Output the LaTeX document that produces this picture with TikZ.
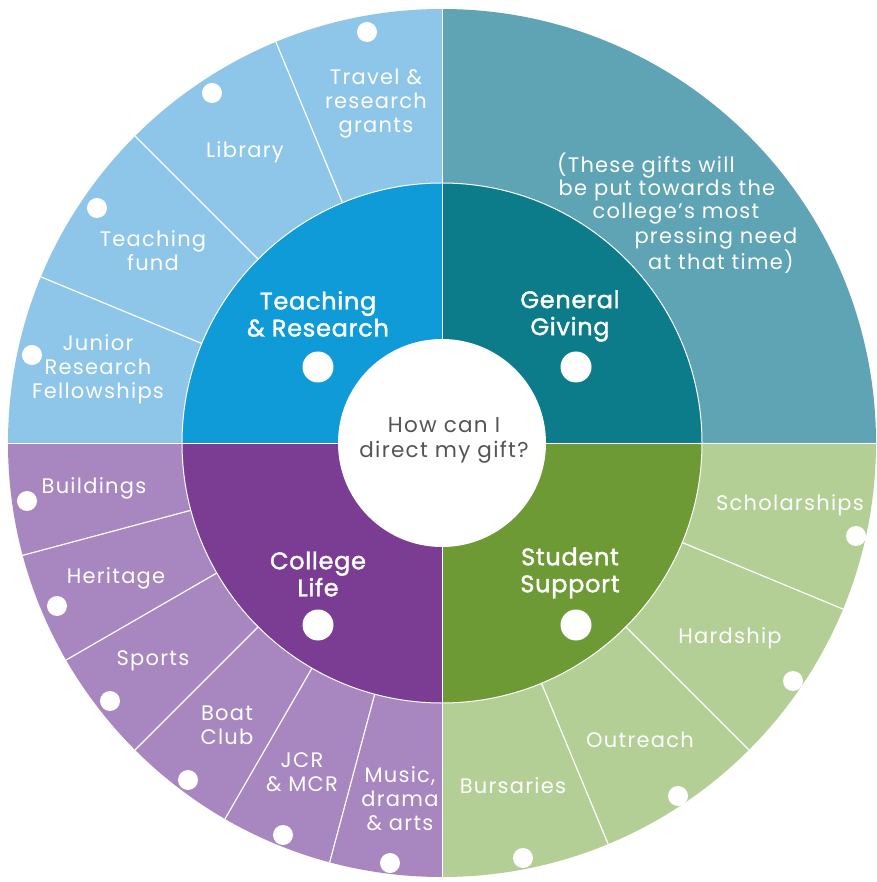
\documentclass[tikz,border=0pt]{standalone}
\usepackage{fontspec}
\setmainfont{Poppins}
\newfontfamily\outfont[LetterSpace=6]{Poppins}
\newfontfamily\catfont[LetterSpace=3,FakeBold=1.6]{Poppins}
\definecolor{trOut}{HTML}{8EC6EA}
\definecolor{trMid}{HTML}{0F9BD7}
\definecolor{ggOut}{HTML}{5EA4B5}
\definecolor{ggMid}{HTML}{0C7C8A}
\definecolor{clOut}{HTML}{A886C0}
\definecolor{clMid}{HTML}{7A3D93}
\definecolor{ssOut}{HTML}{B3CF96}
\definecolor{ssMid}{HTML}{6E9A36}
\definecolor{ctrText}{HTML}{555555}
\tikzset{
  outlbl/.style={text=white, font=\outfont\fontsize{21}{24}\selectfont, align=center, inner sep=0pt},
  catlbl/.style={text=white, font=\catfont\fontsize{24}{27}\selectfont, align=center, inner sep=0pt},
  ctrlbl/.style={text=ctrText, font=\outfont\fontsize{21.5}{25}\selectfont, align=center, inner sep=0pt},
  smalldot/.style={fill=white},
  bigdot/.style={fill=white},
  divider/.style={white, line width=1.2pt}
}
\begin{document}
\begin{tikzpicture}[x=1pt,y=1pt]
\useasboundingbox[fill=white] (-442,-439) rectangle (434,443);
% outer ring quadrants
\fill[ggOut] (0,0) -- (0:434) arc[start angle=0,end angle=90,radius=434] -- cycle;
\fill[trOut] (0,0) -- (90:434) arc[start angle=90,end angle=180,radius=434] -- cycle;
\fill[clOut] (0,0) -- (180:434) arc[start angle=180,end angle=270,radius=434] -- cycle;
\fill[ssOut] (0,0) -- (270:434) arc[start angle=270,end angle=360,radius=434] -- cycle;
% middle ring quadrants
\fill[ggMid] (0,0) -- (0:260) arc[start angle=0,end angle=90,radius=260] -- cycle;
\fill[trMid] (0,0) -- (90:260) arc[start angle=90,end angle=180,radius=260] -- cycle;
\fill[clMid] (0,0) -- (180:260) arc[start angle=180,end angle=270,radius=260] -- cycle;
\fill[ssMid] (0,0) -- (270:260) arc[start angle=270,end angle=360,radius=260] -- cycle;
% separators
\draw[white, line width=1pt] (0,0) circle[radius=260];
\foreach \a in {112.5,135,157.5,195,210,225,240,255,292.5,315,337.5}
  \draw[divider] (\a:260) -- (\a:434);
\foreach \a in {0,90,180,270}
  \draw[white, line width=0.5pt] (\a:104) -- (\a:434);
% centre
\fill[white] (0,0) circle[radius=104];

\begin{scope}[shift={(-442pt,443pt)},x=1pt,y=-1pt]
  \node[ctrlbl] (centre) at (444,440) {How can I\\direct my gift?};
  % category labels
  \node[catlbl] (tr) at (318,314) {Teaching\\\& Research};
  \node[catlbl] (gg) at (570,316) {General\\Giving};
  \node[catlbl] (cl) at (318,574) {College\\Life};
  \node[catlbl] (ss) at (570,573) {Student\\Support};
  \fill[bigdot] (318,367) circle[radius=15.5pt];
  \fill[bigdot] (576,367) circle[radius=15.5pt];
  \fill[bigdot] (318,625) circle[radius=15.5pt];
  \fill[bigdot] (576,625) circle[radius=15.5pt];
  % teaching & research items
  \node[outlbl] (travel) at (376,104) {Travel \&\\research\\grants};
  \node[outlbl] (library) at (245,152) {Library};
  \node[outlbl] (tfund) at (153,251) {Teaching\\fund};
  \node[outlbl] (jrf) at (98,369) {Junior\\Research\\Fellowships};
  \fill[smalldot] (367,32) circle[radius=10pt];
  \fill[smalldot] (212,93) circle[radius=10pt];
  \fill[smalldot] (97,208) circle[radius=10pt];
  \fill[smalldot] (32,355) circle[radius=10pt];
  % general giving text
  \node[outlbl] (g1) at (646,166) {(These gifts will};
  \node[outlbl] (g2) at (667,190) {be put towards the};
  \node[outlbl] (g3) at (676,214) {college’s most};
  \node[outlbl] (g4) at (716,238) {pressing need};
  \node[outlbl] (g5) at (721,262) {at that time)};
  % student support items
  \node[outlbl] (schol) at (790,505) {Scholarships};
  \node[outlbl] (hard) at (730,638) {Hardship};
  \node[outlbl] (outr) at (640,740) {Outreach};
  \node[outlbl] (burs) at (513,786) {Bursaries};
  \fill[smalldot] (856,536) circle[radius=10pt];
  \fill[smalldot] (793,681) circle[radius=10pt];
  \fill[smalldot] (678,796) circle[radius=10pt];
  \fill[smalldot] (523,858) circle[radius=10pt];
  % college life items
  \node[outlbl] (build) at (94,488) {Buildings};
  \node[outlbl] (herit) at (116,578) {Heritage};
  \node[outlbl] (sport) at (153,661) {Sports};
  \node[outlbl] (boat) at (227,725) {Boat\\Club};
  \node[outlbl] (jcr) at (302,772) {JCR\\\& MCR};
  \node[outlbl] (music) at (400,799) {Music,\\drama\\\& arts};
  \fill[smalldot] (27,501) circle[radius=10pt];
  \fill[smalldot] (57,606) circle[radius=10pt];
  \fill[smalldot] (110,701) circle[radius=10pt];
  \fill[smalldot] (188,780) circle[radius=10pt];
  \fill[smalldot] (283,835) circle[radius=10pt];
  \fill[smalldot] (390,863) circle[radius=10pt];
\end{scope}
\end{tikzpicture}
\end{document}
